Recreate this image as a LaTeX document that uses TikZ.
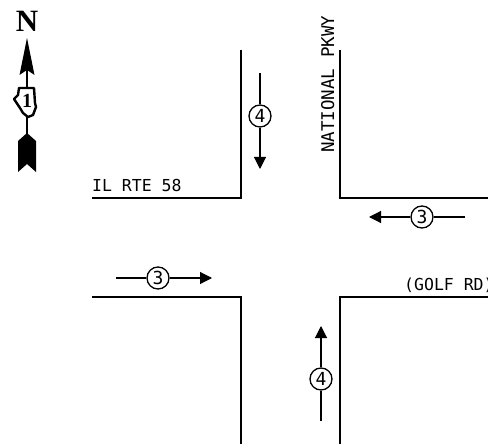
\documentclass[tikz,border=0pt]{standalone}
\usepackage{fontspec}
\setmainfont{DejaVu Sans Mono}
\newfontfamily\nfont{Liberation Serif}
\usetikzlibrary{arrows.meta}
\tikzset{
  road/.style={draw=black,line width=1.5pt,line join=miter},
  flow/.style={draw=black,line width=1.1pt},
  flowtip/.style={flow,-{Triangle[length=12pt,width=12pt]}},
  lane/.style={circle,draw=black,line width=1.3pt,minimum size=22pt,inner sep=0pt,font=\fontsize{18}{18}\selectfont},
  rlabel/.style={inner sep=0pt,anchor=base west,font=\fontsize{16.5}{16.5}\selectfont},
  compass/.style={fill=black,draw=none}
}
\begin{document}
\begin{tikzpicture}[x=1pt,y=-1pt]
\useasboundingbox (0,0) rectangle (488,444);
\clip (0,0) rectangle (488,444);
% roads
\draw[road] (92,198) -- (241,198) -- (241,50);
\draw[road] (340,50) -- (340,198) -- (488,198);
\draw[road] (92,297) -- (241,297) -- (241,444);
\draw[road] (488,297) -- (340,297) -- (340,444);
% flow arrows
\node[lane] (l3a) at (422,217) {3};
\coordinate (a1) at (465,217); \coordinate (a2) at (369,217);
\draw[flow] (a1) -- (l3a); \draw[flowtip] (l3a) -- (a2);
\node[lane] (l3b) at (158,278) {3};
\coordinate (b1) at (116,278); \coordinate (b2) at (212,278);
\draw[flow] (b1) -- (l3b); \draw[flowtip] (l3b) -- (b2);
\node[lane] (l4a) at (260,116) {4};
\coordinate (c1) at (260,73); \coordinate (c2) at (260,169);
\draw[flow] (c1) -- (l4a); \draw[flowtip] (l4a) -- (c2);
\node[lane] (l4b) at (321,379) {4};
\coordinate (d1) at (321,421); \coordinate (d2) at (321,326);
\draw[flow] (d1) -- (l4b); \draw[flowtip] (l4b) -- (d2);
% labels
\node[rlabel] (t1) at (92,191) {IL RTE 58};
\node[rlabel] (t2) at (404,290) {(GOLF RD)};
\node[rlabel,rotate=90,font=\fontsize{17.5}{17.5}\selectfont] (t3) at (334,153) {NATIONAL PKWY};
% north arrow
\node[inner sep=0pt,font=\nfont\bfseries\fontsize{31}{31}\selectfont] (n) at (27,21) {N};
\path[compass] (27,38) -- (34.5,75) -- (27,70) -- (19.5,75) -- cycle;
\draw[line width=2.4pt] (27,70) -- (27,90);
\draw[line width=2.4pt] (27,115) -- (27,136);
\path[compass] (27,133) -- (36,141) -- (36,172) -- (27,164) -- (18,172) -- (18,141) -- cycle;
\draw[line width=2.4pt,fill=white,line join=round] (19,88) -- (34,88) -- (35,103) -- (36,107) -- (33,115) -- (28,117) -- (23,113) -- (20,108) -- (14,99) -- (18,95) -- cycle;
\node[inner sep=0pt,font=\nfont\bfseries\fontsize{20}{20}\selectfont] (one) at (27,101) {1};
\end{tikzpicture}
\end{document}
